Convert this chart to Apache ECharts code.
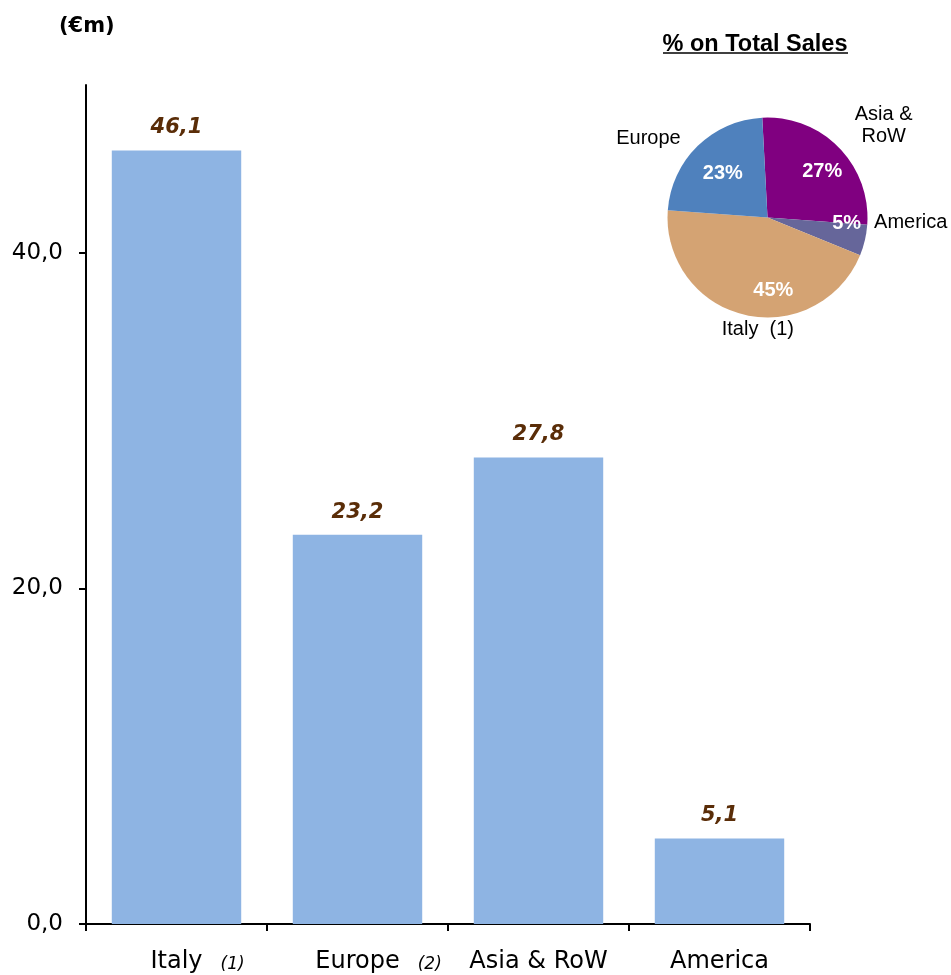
<!DOCTYPE html>
<html>
<head>
<meta charset="utf-8">
<script src="https://cdn.jsdelivr.net/npm/echarts@6/dist/echarts.min.js"></script>
<style>
  html, body { margin: 0; padding: 0; background: #ffffff; }
  #chart { width: 951px; height: 975px; }
</style>
</head>
<body>
<div id="chart"></div>
<script>
// Sales by region (€m)
const regions = ['Italy', 'Europe', 'Asia & RoW', 'America'];
const regionNotes = ['(1)', '(2)', '', ''];
const salesEur = [46.1, 23.2, 27.8, 5.1];
const yTicks = [0, 20, 40];

// Share of total sales (%), listed clockwise from the top of the pie
const shareNames = ['Asia &\nRoW', 'America', 'Italy  (1)', 'Europe'];
const sharePct = [27, 5, 45, 23];
const shareColors = ['#800080', '#66669a', '#d4a373', '#4f81bd'];

const fmtComma = v => v.toFixed(1).replace('.', ',');

const axisFont = 'DejaVu Sans';
const pieFont = '"Liberation Sans", Arial, sans-serif';
const pieCenter = [767.5, 217.5];
const pieStart = 93;
// small nudges so the labels sit where they read best
const nameNudge = [[14, 8], [4, -28], [23, -27], [-19, 23]];
const pctNudge = [[4, 4], [10, -10], [22, 4], [5, 7]];

const chart = echarts.init(document.getElementById('chart'), null, { renderer: 'canvas' });

chart.setOption({
  animation: false,
  backgroundColor: '#ffffff',
  title: [
    {
      text: '(€m)',
      left: 59, top: 16, padding: 0,
      textStyle: { fontFamily: axisFont, fontWeight: 'bold', fontSize: 21, color: '#000' }
    },
    {
      text: '% on Total Sales',
      left: 755, top: 33, padding: 0, textAlign: 'center',
      textStyle: { fontFamily: pieFont, fontWeight: 'bold', fontSize: 23.5, color: '#000' }
    }
  ],
  graphic: [
    {
      type: 'line',
      shape: { x1: 663, y1: 53, x2: 848, y2: 53 },
      style: { stroke: '#000', lineWidth: 1.5 }
    }
  ],
  grid: { left: 86, right: 141, top: 85, bottom: 51, containLabel: false },
  xAxis: {
    type: 'category',
    data: regions,
    axisLine: { lineStyle: { color: '#000', width: 2 } },
    axisTick: { show: true, length: 7, lineStyle: { color: '#000', width: 2 } },
    axisLabel: {
      margin: 26,
      interval: 0,
      color: '#000',
      fontFamily: axisFont,
      fontSize: 24,
      formatter: (value, idx) => {
        const note = regionNotes[idx];
        return note
          ? `{pad|${note}}{gap| }{name|${value}}{gap| }{fn|${note}}`
          : `{name|${value}}`;
      },
      rich: {
        name: { fontFamily: axisFont, fontSize: 24, color: '#000' },
        gap: { width: 18, fontSize: 16 },
        fn: { fontFamily: axisFont, fontSize: 17, fontStyle: 'italic', color: '#000', padding: [6, 0, 0, 0] },
        pad: { fontFamily: axisFont, fontSize: 17, fontStyle: 'italic', color: 'rgba(0,0,0,0)', padding: [6, 0, 0, 0] }
      }
    }
  },
  yAxis: {
    type: 'value',
    min: 0,
    max: 50,
    interval: 10,
    splitLine: { show: false },
    axisLine: { show: true, lineStyle: { color: '#000', width: 2 } },
    axisTick: { show: true, length: 7, customValues: yTicks, lineStyle: { color: '#000', width: 2 } },
    axisLabel: {
      customValues: yTicks,
      margin: 23,
      color: '#000',
      fontFamily: axisFont,
      fontSize: 23,
      formatter: v => fmtComma(v)
    }
  },
  series: [
    {
      type: 'bar',
      data: salesEur,
      barWidth: '71.5%',
      itemStyle: { color: '#8eb4e3' },
      label: {
        show: true,
        position: 'top',
        distance: 12,
        fontFamily: axisFont,
        fontWeight: 'bold',
        fontStyle: 'italic',
        fontSize: 21,
        color: '#5a2d08',
        formatter: p => fmtComma(p.value)
      }
    },
    {
      // the pie itself
      type: 'pie',
      center: pieCenter,
      radius: 100,
      startAngle: pieStart,
      clockwise: true,
      label: { show: false },
      labelLine: { show: false },
      itemStyle: { borderWidth: 0 },
      emphasis: { disabled: true },
      data: sharePct.map((v, i) => ({ name: shareNames[i], value: v, itemStyle: { color: shareColors[i] } }))
    },
    {
      // percentage labels inside the slices
      type: 'pie',
      center: pieCenter,
      radius: 136,
      startAngle: pieStart,
      clockwise: true,
      silent: true,
      itemStyle: { color: 'rgba(0,0,0,0)', borderWidth: 0 },
      labelLine: { show: false },
      label: {
        show: true,
        position: 'inside',
        formatter: p => p.value + '%',
        fontFamily: pieFont,
        fontWeight: 'bold',
        fontSize: 20,
        color: '#ffffff'
      },
      labelLayout: params => ({ dx: pctNudge[params.dataIndex][0], dy: pctNudge[params.dataIndex][1] }),
      data: sharePct.map((v, i) => ({ name: shareNames[i], value: v }))
    },
    {
      // region names around the pie
      type: 'pie',
      center: pieCenter,
      radius: 280,
      startAngle: pieStart,
      clockwise: true,
      silent: true,
      itemStyle: { color: 'rgba(0,0,0,0)', borderWidth: 0 },
      labelLine: { show: false },
      label: {
        show: true,
        position: 'inside',
        formatter: '{b}',
        fontFamily: pieFont,
        fontSize: 20,
        lineHeight: 22,
        color: '#000',
        align: 'center'
      },
      labelLayout: params => ({ dx: nameNudge[params.dataIndex][0], dy: nameNudge[params.dataIndex][1] }),
      data: sharePct.map((v, i) => ({ name: shareNames[i], value: v }))
    }
  ]
});
</script>
</body>
</html>
